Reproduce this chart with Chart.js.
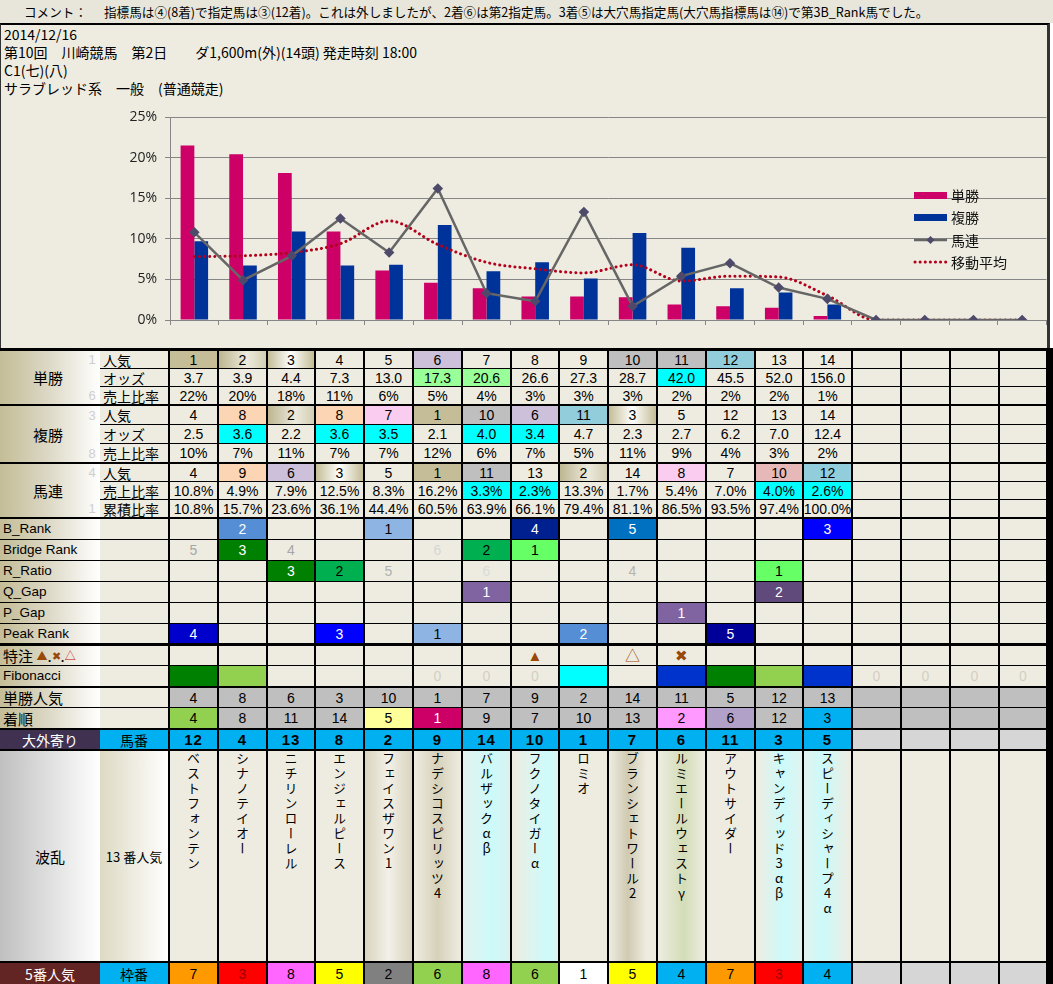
<!DOCTYPE html>
<html><head><meta charset="utf-8">
<script src="https://cdn.jsdelivr.net/npm/chart.js@4.4.1/dist/chart.umd.min.js"></script>
<style>
html,body{margin:0;padding:0;}
body{width:1053px;height:984px;position:relative;overflow:hidden;background:#fff;font-family:"Liberation Sans","Noto Sans CJK JP",sans-serif;color:#000;}
#comment{position:absolute;left:0;top:0;width:1053px;height:23px;background:#E8E6DA;font-family:"Noto Sans CJK JP";font-size:12.6px;line-height:23px;}
#comment .k{position:absolute;left:24px;}
#comment .t{position:absolute;left:104px;}
#head{position:absolute;left:0;top:23px;width:1050px;height:325px;background:#EEECE1;border-top:2px solid #000;border-left:1px solid #333;border-right:3px solid #333;box-sizing:border-box;}
#head .ln{position:absolute;left:3px;font-family:"Noto Sans CJK JP";font-size:14px;white-space:pre;line-height:18px;}
#chartBox{position:absolute;left:100px;top:100px;width:953px;height:247px;}
#tbl{position:absolute;left:0;top:348px;width:1053px;height:636px;background:#000;}
.c{position:absolute;display:flex;align-items:center;justify-content:center;box-sizing:border-box;overflow:hidden;white-space:nowrap;font-size:14px;line-height:1;}
.v{writing-mode:vertical-rl;text-orientation:upright;font-family:"Noto Sans CJK JP";font-size:13px;letter-spacing:2px;line-height:1;}
</style>
</head><body>
<div id="comment"><span class="k">コメント：</span><span class="t">指標馬は④(8着)で指定馬は③(12着)。これは外しましたが、2着⑥は第2指定馬。3着⑤は大穴馬指定馬(大穴馬指標馬は⑭)で第3B_Rank馬でした。</span></div>
<div id="head">
<div class="ln" style="top:0px">2014/12/16</div>
<div class="ln" style="top:18px">第10回　川崎競馬　第2日　　ダ1,600m(外)(14頭) 発走時刻 18:00</div>
<div class="ln" style="top:36px">C1(七)(八)</div>
<div class="ln" style="top:54px">サラブレッド系　一般　(普通競走)</div>
</div>
<div id="chartBox"><canvas id="cv" width="953" height="247"></canvas></div>
<div id="tbl"></div>
<script>
// ---------- chart data ----------
const categories = ['1','2','3','4','5','6','7','8','9','10','11','12','13','14','15','16','17','18'];
const winShare = [21.5, 20.4, 18.1, 10.9, 6.1, 4.6, 3.9, 2.9, 2.9, 2.8, 1.9, 1.7, 1.5, 0.5, null, null, null, null];
const placeShare = [9.7, 6.7, 10.9, 6.7, 6.8, 11.7, 6.0, 7.1, 5.1, 10.7, 8.9, 3.9, 3.4, 1.9, null, null, null, null];
const quinellaShare = [10.8, 4.9, 7.9, 12.5, 8.3, 16.2, 3.3, 2.3, 13.3, 1.7, 5.4, 7.0, 4.0, 2.6, 0, 0, 0, 0];
const movingAvg = [7.8, 7.9, 8.3, 9.4, 12.2, 9.3, 7.1, 6.3, 5.8, 6.8, 4.8, 5.4, 5.3, 3.0, 0, 0, 0, 0];
const yTicks = [0, 5, 10, 15, 20, 25];
const seriesNames = ['単勝', '複勝', '馬連', '移動平均'];

// ---------- table data ----------
const winPop = ['1','2','3','4','5','6','7','8','9','10','11','12','13','14'];
const winOdds = ['3.7','3.9','4.4','7.3','13.0','17.3','20.6','26.6','27.3','28.7','42.0','45.5','52.0','156.0'];
const winRatio = ['22%','20%','18%','11%','6%','5%','4%','3%','3%','3%','2%','2%','2%','1%'];
const placePop = ['4','8','2','8','7','1','10','6','11','3','5','12','13','14'];
const placeOdds = ['2.5','3.6','2.2','3.6','3.5','2.1','4.0','3.4','4.7','2.3','2.7','6.2','7.0','12.4'];
const placeRatio = ['10%','7%','11%','7%','7%','12%','6%','7%','5%','11%','9%','4%','3%','2%'];
const quinPop = ['4','9','6','3','5','1','11','13','2','14','8','7','10','12'];
const quinRatio = ['10.8%','4.9%','7.9%','12.5%','8.3%','16.2%','3.3%','2.3%','13.3%','1.7%','5.4%','7.0%','4.0%','2.6%'];
const quinCum = ['10.8%','15.7%','23.6%','36.1%','44.4%','60.5%','63.9%','66.1%','79.4%','81.1%','86.5%','93.5%','97.4%','100.0%'];
const bRank = ['','2','','','1','','','4','','5','','','','3'];
const bridgeRank = ['5','3','4','','','6','2','1','','','','','',''];
const rRatio = ['','','3','2','5','','6','','','4','','','1',''];
const qGap = ['','','','','','','1','','','','','','2',''];
const pGap = ['','','','','','','','','','','1','','',''];
const peakRank = ['4','','','3','','1','','','2','','','5','',''];
const special = ['','','','','','','','▲','','△','✖','','',''];
const fibonacci = ['','','','','','0','0','0','','','','','','','0','0','0','0'];
const winPopRank = ['4','8','6','3','10','1','7','9','2','14','11','5','12','13'];
const finishOrder = ['4','8','11','14','5','1','9','7','10','13','2','6','12','3'];
const horseNo = ['12','4','13','8','2','9','14','10','1','7','6','11','3','5'];
const horseNames = ['ベストフォンテン','シナノテイオー','ニチリンローレル','エンジェルピース','フェイスザワン1','ナデシコスピリッツ4','バルザックαβ','フクノタイガーα','ロミオ','ブランシェトワール2','ルミエールウェストγ','アウトサイダー','キャンディッド3αβ','スピーディシャープ4α'];
const frameNo = ['7','3','8','5','2','6','8','6','1','5','4','7','3','4'];

// ---------- styles (kept apart from data) ----------
const BASE = '#EEECE1';
const PAL = {
  '': BASE,
  g1: '#C4BD97',
  g2: 'linear-gradient(90deg,#BDB690,#ECEADD 60%,#D3CDB2)',
  g3: 'linear-gradient(90deg,#C4BD97,#FFFFFF 50%,#C4BD97)',
  lav: '#CCC0DA', gray: '#BFBFBF', lblue: '#92CDDC', peach: '#FCD5B4', pink: '#F9CCF0', rose: '#E6B9B8',
  cyan: '#00FFFF', lgreen: '#99FF99'
};
const winPopStyle = ['g1','g2','g3','','','lav','','','','gray','gray','lblue','',''];
const winOddsStyle = ['','','','','','lgreen','lgreen','','','','cyan','','',''];
const placePopStyle = ['','peach','g2','peach','pink','g1','gray','lav','lblue','g3','','','',''];
const placeOddsStyle = ['','cyan','','cyan','cyan','','cyan','cyan','','','','','',''];
const quinPopStyle = ['','peach','lav','g3','','g1','gray','','g2','','pink','','rose','lblue'];
const quinRatioStyle = ['','','','','','','cyan','cyan','','','','','cyan','cyan'];
const bRankStyle = ['','#558ED5|#fff','','','#8DB4E2|#000','','','#00208F|#fff','','#0070C0|#fff','','','','#0000FF|#fff'];
const bridgeStyle = ['|#A6A6A6','#008000|#fff','|#A6A6A6','','','|#D6D6D6','#00B050|#000','#66FF66|#000','','','','','',''];
const rRatioStyle = ['','','#008000|#fff','#00B050|#000','|#B0B0B0','','|#DADADA','','','|#B8B4A8','','','#66FF66|#000',''];
const qGapStyle = ['','','','','','','#8064A2|#fff','','','','','','#604A7B|#fff',''];
const pGapStyle = ['','','','','','','','','','','#8064A2|#fff','','',''];
const peakStyle = ['#0000CC|#fff','','','#0000FF|#fff','','#8DB4E2|#000','','','#558ED5|#fff','','','#000099|#fff','',''];
const fibStyle = ['#008000','#92D050','','','','|#D4D0C4','|#D4D0C4','|#D4D0C4','#00FFFF','','#0033CC','#008000','#92D050','#0033CC','|#D4D0C4','|#D4D0C4','|#D4D0C4','|#D4D0C4'];
const finishStyle = ['#92D050','','','','#FFFF99','#CC0066|#fff','','','','','#FF99FF','#B1A0C7','','#00B0F0'];
const nameStyle = ['','','','','linear-gradient(90deg,#D9D4BE,#F2F0E8 50%,#D9D4BE)','linear-gradient(90deg,#EEECE1,#D6D1BA 50%,#EEECE1)',
  'linear-gradient(90deg,#E4F3EE,#CCFAFA 60%,#D8F3EF)','linear-gradient(90deg,#EEECE1,#CCFCFC 80%,#DDF3EE)','',
  'linear-gradient(90deg,#EEECE1,#D0CAB2 40%,#EEECE1 80%)','linear-gradient(90deg,#EEECE1,#D3DDB7 55%,#EEECE1)','',
  'linear-gradient(90deg,#EEECE1,#CCFAFA 60%,#E0F4F0)','linear-gradient(90deg,#E0F4F0,#CCFAFA 40%,#EEECE1)'];
const frameColor = {'1':'#FFFFFF|#000','2':'#808080|#000','3':'#FF0000|#A00000','4':'#00B0F0|#000','5':'#FFFF00|#000','6':'#92D050|#000','7':'#FF9900|#000','8':'#FF66FF|#000'};

// ---------- chart ----------
const legendPlugin = {
  id: 'customLegend',
  afterDraw(chart) {
    const c = chart.ctx;
    const x0 = 814, tx = 851, ys = [95, 117, 140, 162];
    c.save();
    c.font = '14px "Noto Sans CJK JP"';
    c.textBaseline = 'middle';
    c.fillStyle = '#CC0066'; c.fillRect(x0, ys[0] - 3, 33, 7);
    c.fillStyle = '#003399'; c.fillRect(x0, ys[1] - 3, 33, 7);
    c.strokeStyle = '#666666'; c.lineWidth = 2.5; c.beginPath(); c.moveTo(x0, ys[2]); c.lineTo(x0 + 33, ys[2]); c.stroke();
    c.fillStyle = '#4E4A6A'; c.beginPath(); c.moveTo(x0 + 16.5, ys[2] - 4); c.lineTo(x0 + 20.5, ys[2]); c.lineTo(x0 + 16.5, ys[2] + 4); c.lineTo(x0 + 12.5, ys[2]); c.closePath(); c.fill();
    c.strokeStyle = '#B3001B'; c.lineWidth = 3; c.lineCap = 'round'; c.setLineDash([0.1, 5]);
    c.beginPath(); c.moveTo(x0 + 1, ys[3]); c.lineTo(x0 + 33, ys[3]); c.stroke();
    c.setLineDash([]);
    c.fillStyle = '#111';
    seriesNames.forEach((n, i) => c.fillText(n, tx, ys[i] + 1));
    c.restore();
  }
};

new Chart(document.getElementById('cv'), {
  type: 'bar',
  data: {
    labels: categories,
    datasets: [
      { type: 'line', label: seriesNames[2], data: quinellaShare, borderColor: '#666666', borderWidth: 2.5,
        pointStyle: 'rectRot', pointRadius: 3.5, pointBackgroundColor: '#4E4A6A', pointBorderColor: '#4E4A6A', tension: 0, order: 1 },
      { type: 'line', label: seriesNames[3], data: movingAvg, borderColor: '#B3001B', borderWidth: 3, borderDash: [0.1, 5],
        borderCapStyle: 'round', pointRadius: 0, cubicInterpolationMode: 'monotone', fill: false, order: 2 },
      { label: seriesNames[0], data: winShare, backgroundColor: '#CC0066', categoryPercentage: 0.565, barPercentage: 1, order: 3 },
      { label: seriesNames[1], data: placeShare, backgroundColor: '#003399', categoryPercentage: 0.565, barPercentage: 1, order: 4 }
    ]
  },
  options: {
    responsive: false, animation: false, devicePixelRatio: 1,
    layout: { padding: { top: 17, right: 5, left: 0, bottom: 0 } },
    plugins: { legend: { display: false }, tooltip: { enabled: false } },
    scales: {
      x: {
        grid: { display: true, drawOnChartArea: false, drawTicks: true, tickLength: 5, color: '#868686', offset: true },
        border: { color: '#868686' },
        ticks: { display: false },
        afterFit: s => { s.height = 27; }
      },
      y: {
        min: yTicks[0], max: yTicks[yTicks.length - 1],
        afterBuildTicks: s => { s.ticks = yTicks.map(v => ({ value: v })); },
        ticks: { callback: v => v + '%', font: { family: 'Open Sans', size: 14 }, color: '#222', padding: 8 },
        grid: { color: '#868686', tickLength: 5 },
        border: { color: '#868686' },
        afterFit: s => { s.width = 70; }
      }
    }
  },
  plugins: [legendPlugin]
});

// ---------- table ----------
const T = document.getElementById('tbl');
const OY = 348;
function box(x, y, w, h, bg, html, st) {
  const d = document.createElement('div');
  d.className = 'c';
  d.style.cssText = `left:${x}px;top:${y - OY}px;width:${w}px;height:${h}px;background:${bg};` + (st || '');
  d.innerHTML = html == null ? '' : html;
  T.appendChild(d);
  return d;
}
const colL = i => Math.round(170 + i * 48.8);
const colW = i => Math.round(170 + (i + 1) * 48.8) - colL(i) - 2;
const rows = [
  [351,17],[369,17],[387,17],
  [406,18],[425,18],[444,18],
  [464,17],[482,17],[500,17],
  [519,20],[540,20],[561,20],[582,20],[603,20],[624,19],
  [646,19],[666,20],
  [688,19],[708,20],
  [730,19],
  [751,210],
  [963,21]
];
const labGrad = 'linear-gradient(90deg,#C4BD97 0%,#DAD6C2 45%,#FFFFFF 100%)';

function styleOf(s) {
  if (!s) return [BASE, '#000'];
  if (PAL[s] !== undefined) return [PAL[s], '#000'];
  const [b, f] = s.split('|');
  return [b || BASE, f || '#000'];
}
function dataRow(r, vals, styles, emptyBg, extra) {
  const [y, h] = rows[r];
  for (let i = 0; i < 18; i++) {
    const v = i < vals.length ? vals[i] : '';
    const [bg, fg] = styleOf(styles ? styles[i] : '');
    box(colL(i), y, colW(i), h, i < 14 || vals.length > 14 ? bg : (emptyBg || BASE), v, `color:${fg};` + (extra || ''));
  }
}

// group blocks
const groups = [['単勝', 0, ['人気','オッズ','売上比率'], ['1','','6']], ['複勝', 3, ['人気','オッズ','売上比率'], ['3','','8']], ['馬連', 6, ['人気','売上比率','累積比率'], ['4','','1']]];
groups.forEach(([name, r0, subs, faint]) => {
  const top = rows[r0][0], bot = rows[r0 + 2][0] + rows[r0 + 2][1];
  box(0, top, 100, bot - top, labGrad, name, 'font-family:"Noto Sans CJK JP";font-size:15px;padding-right:4px;');
  for (let k = 0; k < 3; k++) {
    const [y, h] = rows[r0 + k];
    if (faint[k]) box(86, y, 12, h, 'transparent', faint[k], 'color:#CFCFCF;font-size:13px;');
    box(100, y, 68, h, BASE, subs[k], 'justify-content:flex-start;padding-left:3px;font-family:"Noto Sans CJK JP";font-size:14px;');
  }
});
dataRow(0, winPop, winPopStyle);
dataRow(1, winOdds, winOddsStyle);
dataRow(2, winRatio);
dataRow(3, placePop, placePopStyle);
dataRow(4, placeOdds, placeOddsStyle);
dataRow(5, placeRatio);
dataRow(6, quinPop, quinPopStyle);
dataRow(7, quinRatio, quinRatioStyle);
dataRow(8, quinCum);

// lower label rows
const lowLabels = ['B_Rank','Bridge Rank','R_Ratio','Q_Gap','P_Gap','Peak Rank',
  '特注&nbsp;<span style="color:#984807;font-size:11px">▲</span>.<span style="color:#984807;font-size:11px">✖</span>.<span style="color:#C00000;font-size:11px">△</span>',
  'Fibonacci','単勝人気','着順'];
lowLabels.forEach((lab, k) => {
  const [y, h] = rows[9 + k];
  const cjk = k >= 6 && k !== 7;
  box(0, y, 100, h, labGrad, lab, 'justify-content:flex-start;padding-left:3px;' + (cjk ? 'font-family:"Noto Sans CJK JP";font-size:15px;' : 'font-size:13.5px;'));
  box(100, y, 68, h, BASE, '');
});
dataRow(9, bRank, bRankStyle);
dataRow(10, bridgeRank, bridgeStyle);
dataRow(11, rRatio, rRatioStyle);
dataRow(12, qGap, qGapStyle);
dataRow(13, pGap, pGapStyle);
dataRow(14, peakRank, peakStyle);
dataRow(15, special, special.map(s => s ? '|#984807' : ''), null, 'font-size:15px;');
dataRow(16, fibonacci, fibStyle);
dataRow(17, winPopRank, winPopRank.map(() => '#BFBFBF'), '#BFBFBF');
dataRow(18, finishOrder, finishStyle.map(s => s || '#BFBFBF'), '#BFBFBF');

// horse number row
{
  const [y, h] = rows[19];
  box(0, y, 100, h, '#403151', '大外寄り', 'color:#fff;font-family:"Noto Sans CJK JP";font-size:14px;');
  box(100, y, 68, h, '#00B0F0', '馬番', 'font-family:"Noto Sans CJK JP";font-size:14px;');
  dataRow(19, horseNo, horseNo.map(() => '#00B0F0'), '#D6D6D6', 'font-weight:bold;font-size:15px;letter-spacing:1px;');
}
// names row
{
  const [y, h] = rows[20];
  box(0, y, 100, h, 'linear-gradient(90deg,#C0C0C0,#FFFFFF)', '波乱', 'font-family:"Noto Sans CJK JP";font-size:15px;');
  box(100, y, 68, h, 'linear-gradient(90deg,#DDD9C3,#FFFFFF)', '13 番人気', 'font-family:"Noto Sans CJK JP";font-size:13px;');
  for (let i = 0; i < 18; i++) {
    const nm = horseNames[i];
    box(colL(i), y, colW(i), h, i < 14 ? (nameStyle[i] || BASE) : BASE, nm ? `<span class="v">${nm}</span>` : '', 'align-items:flex-start;padding-top:1px;');
  }
}
// frame row
{
  const [y, h] = rows[21];
  box(0, y, 100, h, '#632523', '5番人気', 'color:#fff;font-family:"Noto Sans CJK JP";font-size:14px;');
  box(100, y, 68, h, '#00B0F0', '枠番', 'font-family:"Noto Sans CJK JP";font-size:14px;');
  dataRow(21, frameNo, frameNo.map(f => frameColor[f]), '#D6D6D6');
}
</script>
</body></html>
